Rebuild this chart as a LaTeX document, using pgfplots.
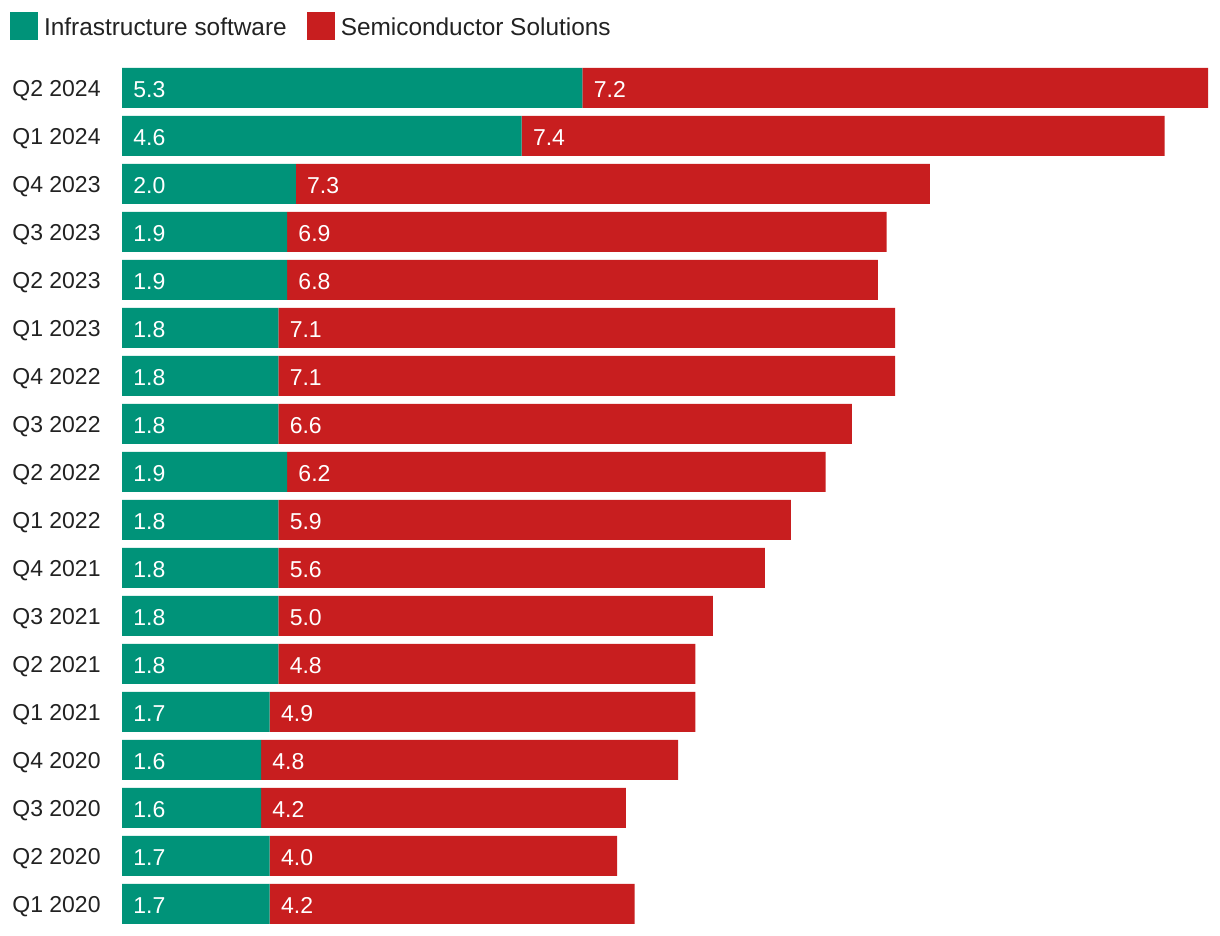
\documentclass[border=0pt]{standalone}
\usepackage{pgfplots}
\pgfplotsset{compat=1.18}
\usepackage{pgfplotstable}
\usepackage{fontspec}
\setmainfont{Liberation Sans}
\definecolor{infra}{HTML}{009379}
\definecolor{semi}{HTML}{C81E1F}
\definecolor{txt}{HTML}{222222}
\newcommand{\lblfont}{\fontsize{11.5pt}{13pt}\selectfont}
\newcommand{\legfont}{\fontsize{12.2pt}{14pt}\selectfont}
\pgfplotstableread{
i g s z
0 1.7 4.2 0
1 1.7 4.0 0
2 1.6 4.2 0
3 1.6 4.8 0
4 1.7 4.9 0
5 1.8 4.8 0
6 1.8 5.0 0
7 1.8 5.6 0
8 1.8 5.9 0
9 1.9 6.2 0
10 1.8 6.6 0
11 1.8 7.1 0
12 1.8 7.1 0
13 1.9 6.8 0
14 1.9 6.9 0
15 2.0 7.3 0
16 4.6 7.4 0
17 5.3 7.2 0
}\data
\pgfplotsset{mybase/.style={scale only axis, width=543pt, height=432pt,
  xmin=0, xmax=12.5, ymin=-0.5, ymax=17.5, at={(61pt,4pt)}, anchor=south west}}
\begin{document}
\begin{tikzpicture}
\useasboundingbox (0,0) rectangle (610pt,468pt);
\begin{axis}[mybase, xbar stacked, bar width=20pt,
  axis line style={draw=none}, xtick=\empty,
  ytick={0,...,17},
  yticklabels={Q1 2020,Q2 2020,Q3 2020,Q4 2020,Q1 2021,Q2 2021,Q3 2021,Q4 2021,Q1 2022,Q2 2022,Q3 2022,Q4 2022,Q1 2023,Q2 2023,Q3 2023,Q4 2023,Q1 2024,Q2 2024},
  major tick length=0pt,
  yticklabel style={font=\lblfont, text=txt, inner sep=0pt, anchor=east, xshift=-10.5pt, yshift=-1.5pt},
  legend columns=2,
  legend style={at={(axis description cs:-0.1031,1.0602)}, anchor=north west,
    draw=none, fill=none, inner sep=0pt, outer sep=0pt,
    font=\legfont, text=txt,
    nodes={inner xsep=3pt, inner ysep=0pt, yshift=-1pt},
    /tikz/every even column/.append style={column sep=7pt}},
]
\addplot[fill=infra, draw=none, legend image code/.code={\fill[infra] (0pt,-7pt) rectangle (14pt,7pt);}] table[x=g, y=i]{\data};
\addplot[fill=semi, draw=none, legend image code/.code={\fill[semi] (0pt,-7pt) rectangle (14pt,7pt);}] table[x=s, y=i]{\data};
\legend{Infrastructure software, Semiconductor Solutions}
\end{axis}
\begin{axis}[mybase, axis lines=none, clip=false]
\addplot[draw=none, mark=none, nodes near coords, point meta=explicit symbolic,
  every node near coord/.append style={anchor=west, xshift=5.5pt, yshift=-0.8pt, inner sep=0pt, text=white, font=\lblfont}]
  table[x=z, y=i, meta=g]{\data};
\addplot[draw=none, mark=none, nodes near coords, point meta=explicit symbolic,
  every node near coord/.append style={anchor=west, xshift=5.5pt, yshift=-0.8pt, inner sep=0pt, text=white, font=\lblfont}]
  table[x=g, y=i, meta=s]{\data};
\end{axis}
\end{tikzpicture}
\end{document}
